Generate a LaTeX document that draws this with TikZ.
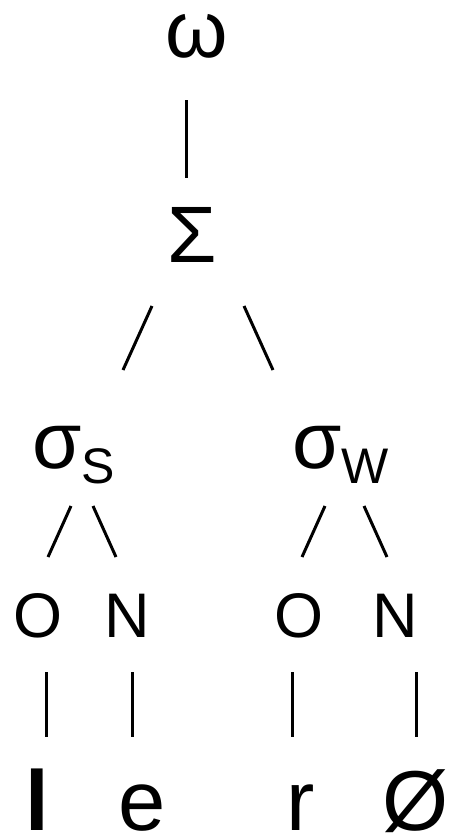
\documentclass[tikz,border=0pt]{standalone}
\usepackage{fontspec}
\setmainfont{Liberation Sans}
\usepackage{tikz}
\usetikzlibrary{positioning,calc}
\tikzset{%
  % symbol classes
  sym/.style={inner sep=0pt, outer sep=0pt, anchor=base},
  huge/.style={sym, font=\fontsize{80}{80}\selectfont},
  mid/.style={sym, font=\fontsize{63}{63}\selectfont},
  leaf/.style={sym, font=\fontsize{85}{85}\selectfont},
  % edge styles
  edge/.style={line width=3pt},
}
\newcommand{\lowsub}[1]{\raisebox{-15pt}{\fontsize{50}{50}\selectfont #1}}

\begin{document}
\begin{tikzpicture}[x=1pt, y=-1pt]
  \useasboundingbox (0,0) rectangle (451,833);

  % word and foot
  \node[huge] (omega) at (197,57) {ω};
  \node[huge] (sigma) at (192,262) {Σ};

  % syllables
  \node[huge, anchor=base west] (sylS) at (32,468) {σ\lowsub{S}};
  \node[huge, anchor=base west] (sylW) at (292,468) {σ\lowsub{W}};

  % onsets and nuclei
  \node[mid] (onsS) at (38.5,637) {O};
  \node[mid] (nucS) at (127,637) {N};
  \node[mid] (onsW) at (298.5,637) {O};
  \node[mid] (nucW) at (395.5,637) {N};

  % segments
  \node[leaf, font=\fontsize{85}{85}\selectfont\bfseries] (segl) at (37.5,830) {l};
  \node[leaf] (sege) at (142.5,830) {e};
  \node[leaf] (segr) at (300.5,830) {r};
  \node[leaf] (segz) at (416,830) {Ø};

  % links
  \draw[edge] ([shift={(-11,43)}]omega.base) -- ([shift={(-6,-84)}]sigma.base);
  \draw[edge] ([shift={(-40,44)}]sigma.base) -- ([shift={(91,-98)}]sylS.base west);
  \draw[edge] ([shift={(52,44)}]sigma.base) -- ([shift={(-19,-98)}]sylW.base west);
  \draw[edge] ([shift={(39,38)}]sylS.base west) -- ([shift={(9.5,-80)}]onsS.base);
  \draw[edge] ([shift={(61,38)}]sylS.base west) -- ([shift={(-11,-80)}]nucS.base);
  \draw[edge] ([shift={(33,38)}]sylW.base west) -- ([shift={(3.5,-80)}]onsW.base);
  \draw[edge] ([shift={(72,38)}]sylW.base west) -- ([shift={(-8.5,-80)}]nucW.base);
  \draw[edge] ([shift={(7.5,35)}]onsS.base) -- ([shift={(8.5,-93)}]segl.base);
  \draw[edge] ([shift={(5,35)}]nucS.base) -- ([shift={(-10.5,-93)}]sege.base);
  \draw[edge] ([shift={(-6.5,35)}]onsW.base) -- ([shift={(-8.5,-93)}]segr.base);
  \draw[edge] ([shift={(20.5,35)}]nucW.base) -- ([shift={(0,-93)}]segz.base);

\end{tikzpicture}
\end{document}
